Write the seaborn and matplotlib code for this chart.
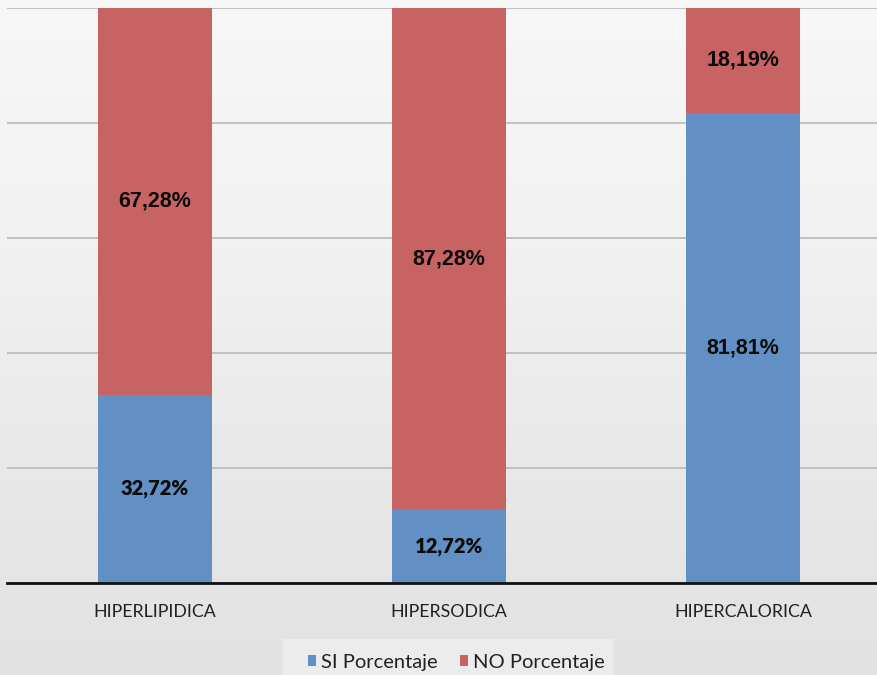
import numpy as np
import pandas as pd
import matplotlib
matplotlib.use("Agg")
import matplotlib.pyplot as plt
from matplotlib.patches import Patch, Rectangle
from matplotlib.colors import LinearSegmentedColormap
import seaborn as sns

categories = ["HIPERLIPIDICA", "HIPERSODICA", "HIPERCALORICA"]
si_values = [32.72, 12.72, 81.81]
no_values = [67.28, 87.28, 18.19]
si_labels = ["32,72%", "12,72%", "81,81%"]
no_labels = ["67,28%", "87,28%", "18,19%"]
series_names = ["SI Porcentaje", "NO Porcentaje"]

BLUE = "#6290c4"
RED = "#c86363"

sns.set_theme(style="white")
plt.rcParams["font.family"] = ["Lato", "DejaVu Sans"]

df = pd.DataFrame({"cat": categories, "si": si_values, "no": no_values})
df["total"] = df["si"] + df["no"]

fig = plt.figure(figsize=(8.78, 6.75), dpi=100)

# background gradient
bg = fig.add_axes([0, 0, 1, 1], zorder=-10)
grad = np.linspace(0, 1, 256).reshape(-1, 1)
cmap = LinearSegmentedColormap.from_list("bg", ["#f7f7f7", "#f2f2f2", "#e9e9e9", "#e2e2e2"])
bg.imshow(grad, aspect="auto", cmap=cmap, extent=[0, 1, 0, 1], origin="upper")
bg.set_axis_off()

# legend box
fig.patches.append(Rectangle((283 / 878, 0), 330 / 878, 36 / 675,
                             transform=fig.transFigure, facecolor="#ececec",
                             edgecolor="none", zorder=-5))

ax = fig.add_axes([0.008, 0.1363, 0.992, 0.8517])
ax.set_facecolor("none")

sns.barplot(data=df, x="cat", y="total", color=RED, saturation=1, width=0.39,
            ax=ax, zorder=3, linewidth=0)
sns.barplot(data=df, x="cat", y="si", color=BLUE, saturation=1, width=0.39,
            ax=ax, zorder=4, linewidth=0)

ax.set_ylim(0, 100)
ax.set_xlim(-0.503, 2.459)
ax.set_yticks([0, 20, 40, 60, 80, 100])
ax.yaxis.grid(True, color="#b8b8b8", linewidth=1.2, zorder=1)
ax.set_axisbelow(True)
ax.set_yticklabels([])
ax.tick_params(axis="y", length=0)
ax.tick_params(axis="x", length=0, pad=15, labelsize=12.8, labelcolor="#222222")
ax.set_xlabel("")
ax.set_ylabel("")
for s in ["left", "right", "top"]:
    ax.spines[s].set_visible(False)
ax.spines["bottom"].set_color("#111111")
ax.spines["bottom"].set_linewidth(2)
ax.spines["bottom"].set_zorder(6)

for i in range(len(categories)):
    si = si_values[i]
    no = no_values[i]
    ax.text(i, si + no / 2, no_labels[i],
            ha="center", va="center", fontsize=15.5, fontweight="bold",
            family=["Liberation Sans", "DejaVu Sans"], color="#0a0a0a", zorder=7)
    if si > no:
        ax.text(i, si / 2, si_labels[i], ha="center", va="center", fontsize=15.5,
                fontweight="bold", family=["Liberation Sans", "DejaVu Sans"],
                color="#0a0a0a", zorder=7)
    else:
        ax.text(i, si / 2, si_labels[i], ha="center", va="center", fontsize=14.5,
                fontweight="heavy", family=["Lato", "DejaVu Sans"],
                color="#0a0a0a", zorder=7)

handles = [Patch(facecolor=BLUE, edgecolor="none"), Patch(facecolor=RED, edgecolor="none")]
leg = fig.legend(handles, series_names, loc="center", bbox_to_anchor=(456 / 878, 0.019),
                 ncol=2, frameon=False, fontsize=14.5, handlelength=0.4,
                 handleheight=0.4, handletextpad=0.25, columnspacing=1.1,
                 borderpad=0.2)
for t in leg.get_texts():
    t.set_color("#222222")

fig.savefig("out.png", dpi=100)
